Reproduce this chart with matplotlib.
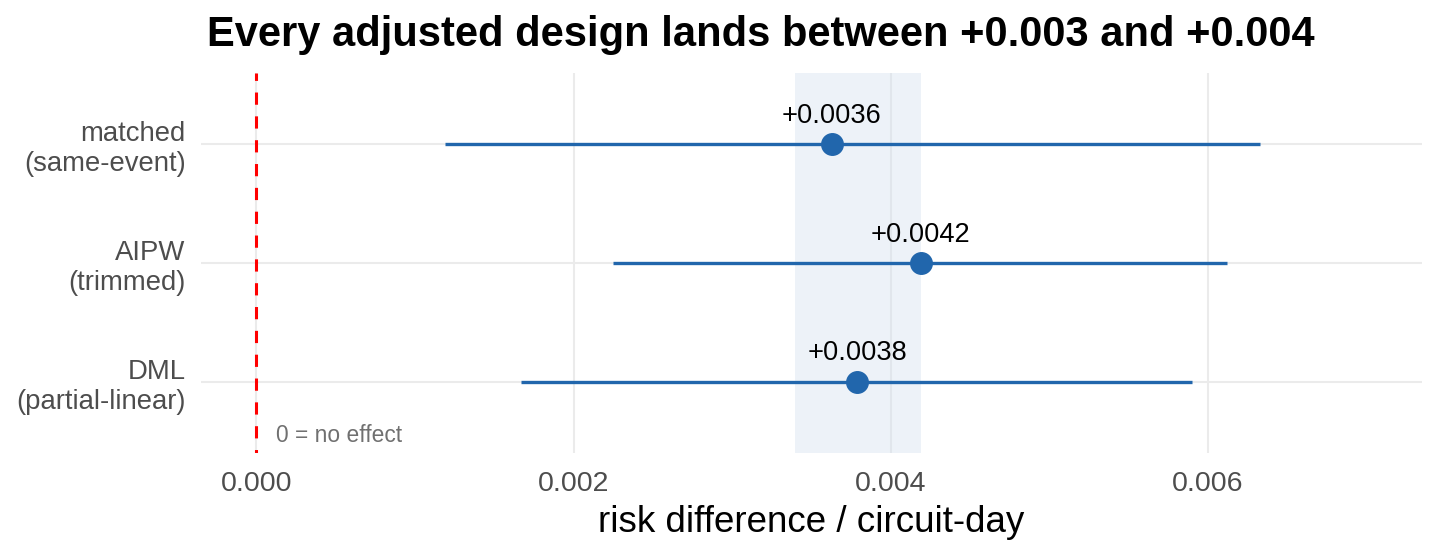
import numpy as np
import matplotlib
matplotlib.use("Agg")
import matplotlib.pyplot as plt

plt.rcParams['font.family'] = ['Liberation Sans', 'DejaVu Sans']

# estimates, top row first
designs = ['matched\n(same-event)', 'AIPW\n(trimmed)', 'DML\n(partial-linear)']
estimate = [0.00363, 0.00419, 0.00379]
ci_low = [0.00119, 0.00225, 0.00167]
ci_high = [0.00633, 0.00612, 0.00590]
point_labels = ['+0.0036', '+0.0042', '+0.0038']
band = [0.00340, 0.00419]
xticks = [0.000, 0.002, 0.004, 0.006]

blue = '#2166AC'
grid_col = '#EBEBEB'

fig = plt.figure(figsize=(14.4, 5.56), dpi=100)
ax = fig.add_axes([201/1440, 103/556, (1421.7-201)/1440, 380/556])

ypos = np.arange(len(designs), 0, -1)

ax.set_xlim(-0.00035, 0.00735)
ax.set_ylim(0.4, len(designs) + 0.6)

# grid
for xt in xticks:
    ax.axvline(xt, color=grid_col, lw=1.5, zorder=0)
for y in ypos:
    ax.axhline(y, color=grid_col, lw=1.5, zorder=0)

ax.axvspan(band[0], band[1], color='#D2E0EE', alpha=0.4, lw=0, zorder=1)

ax.axvline(0, color='red', lw=2.2, ls=(6.3/2.2, (4.0, 3.8)), zorder=2)

ax.hlines(ypos, ci_low, ci_high, color=blue, lw=2.4, zorder=3)
ax.plot(estimate, ypos, 'o', color=blue, ms=15.5, zorder=4)

for x, y, lab in zip(estimate, ypos, point_labels):
    ax.annotate(lab, (x, y), xytext=(0, 11), textcoords='offset points',
                ha='center', va='bottom', fontsize=19.6, color='black')

ax.text(0.00012, 0.55, '0 = no effect', fontsize=16.4, color='#707070',
        ha='left', va='center')

ax.set_xticks(xticks)
ax.set_xticklabels([f'{v:.3f}' for v in xticks])
ax.set_yticks(ypos)
ax.set_yticklabels(designs)
ax.tick_params(axis='both', length=0, labelsize=20.5, labelcolor='#4D4D4D')
ax.tick_params(axis='y', labelsize=19.8)
ax.tick_params(axis='x', pad=13)
ax.tick_params(axis='y', pad=11)
for s in ax.spines.values():
    s.set_visible(False)

ax.set_xlabel('risk difference / circuit-day', fontsize=26.5, color='black', labelpad=6)
fig.suptitle('Every adjusted design lands between +0.003 and +0.004',
             fontsize=30, fontweight='bold', x=761/1440, y=1 - 35/556, va='center')

fig.savefig('out.png', dpi=100, facecolor='white')
